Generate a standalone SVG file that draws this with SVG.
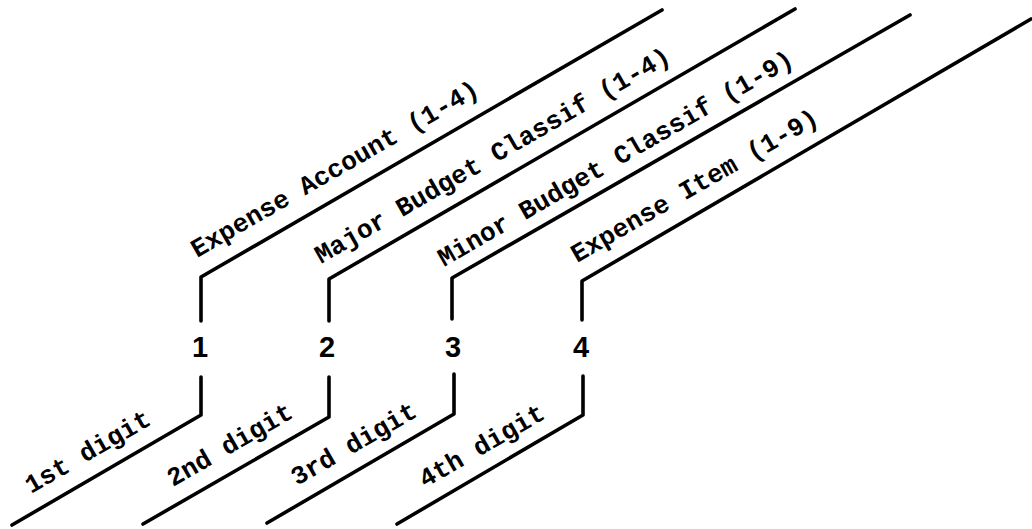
<svg xmlns="http://www.w3.org/2000/svg" width="1032" height="529" viewBox="0 0 1032 529">
<style>
.bg{fill:#fff}
.ln{fill:none;stroke:#000;stroke-width:3.6;stroke-linecap:round;stroke-linejoin:round}
.lbl{font-family:"Liberation Mono","DejaVu Sans Mono",monospace;font-weight:bold;font-size:26px;fill:#000}
.dig{font-family:"Liberation Sans Narrow","Liberation Sans",Arial,sans-serif;font-weight:bold;font-size:29px;fill:#000;text-anchor:middle}
</style>
<rect class="bg" x="0" y="0" width="1032" height="529"/>
<g id="connectors">
<path class="ln" d="M201,321 V277 L662,10"/>
<path class="ln" d="M329,321 V279 L795,9"/>
<path class="ln" d="M452,319 V278 L910,15"/>
<path class="ln" d="M582,320 V281 L1031,19"/>
<path class="ln" d="M201,377 V415 L12,525"/>
<path class="ln" d="M329,377 V417 L143,524"/>
<path class="ln" d="M454,374 V414 L267,523"/>
<path class="ln" d="M583,376 V415 L397,524"/>
</g>
<g id="digit-1"><text class="dig" x="200" y="357">1</text></g>
<g id="digit-2"><text class="dig" x="327" y="357">2</text></g>
<g id="digit-3"><text class="dig" x="453" y="357">3</text></g>
<g id="digit-4"><text class="dig" x="581" y="357">4</text></g>
<g id="label-expense-account"><text class="lbl" transform="translate(197,258) rotate(-30)">Expense Account (1-4)</text></g>
<g id="label-major-budget"><text class="lbl" transform="translate(321,264) rotate(-30)">Major Budget Classif (1-4)</text></g>
<g id="label-minor-budget"><text class="lbl" transform="translate(444,267) rotate(-30)">Minor Budget Classif (1-9)</text></g>
<g id="label-expense-item"><text class="lbl" transform="translate(577,263) rotate(-30)">Expense Item (1-9)</text></g>
<g id="label-1st"><text class="lbl" transform="translate(31,494) rotate(-30)">1st digit</text></g>
<g id="label-2nd"><text class="lbl" transform="translate(173,487) rotate(-30)">2nd digit</text></g>
<g id="label-3rd"><text class="lbl" transform="translate(297,486) rotate(-30)">3rd digit</text></g>
<g id="label-4th"><text class="lbl" transform="translate(425,488) rotate(-30)">4th digit</text></g>
</svg>
